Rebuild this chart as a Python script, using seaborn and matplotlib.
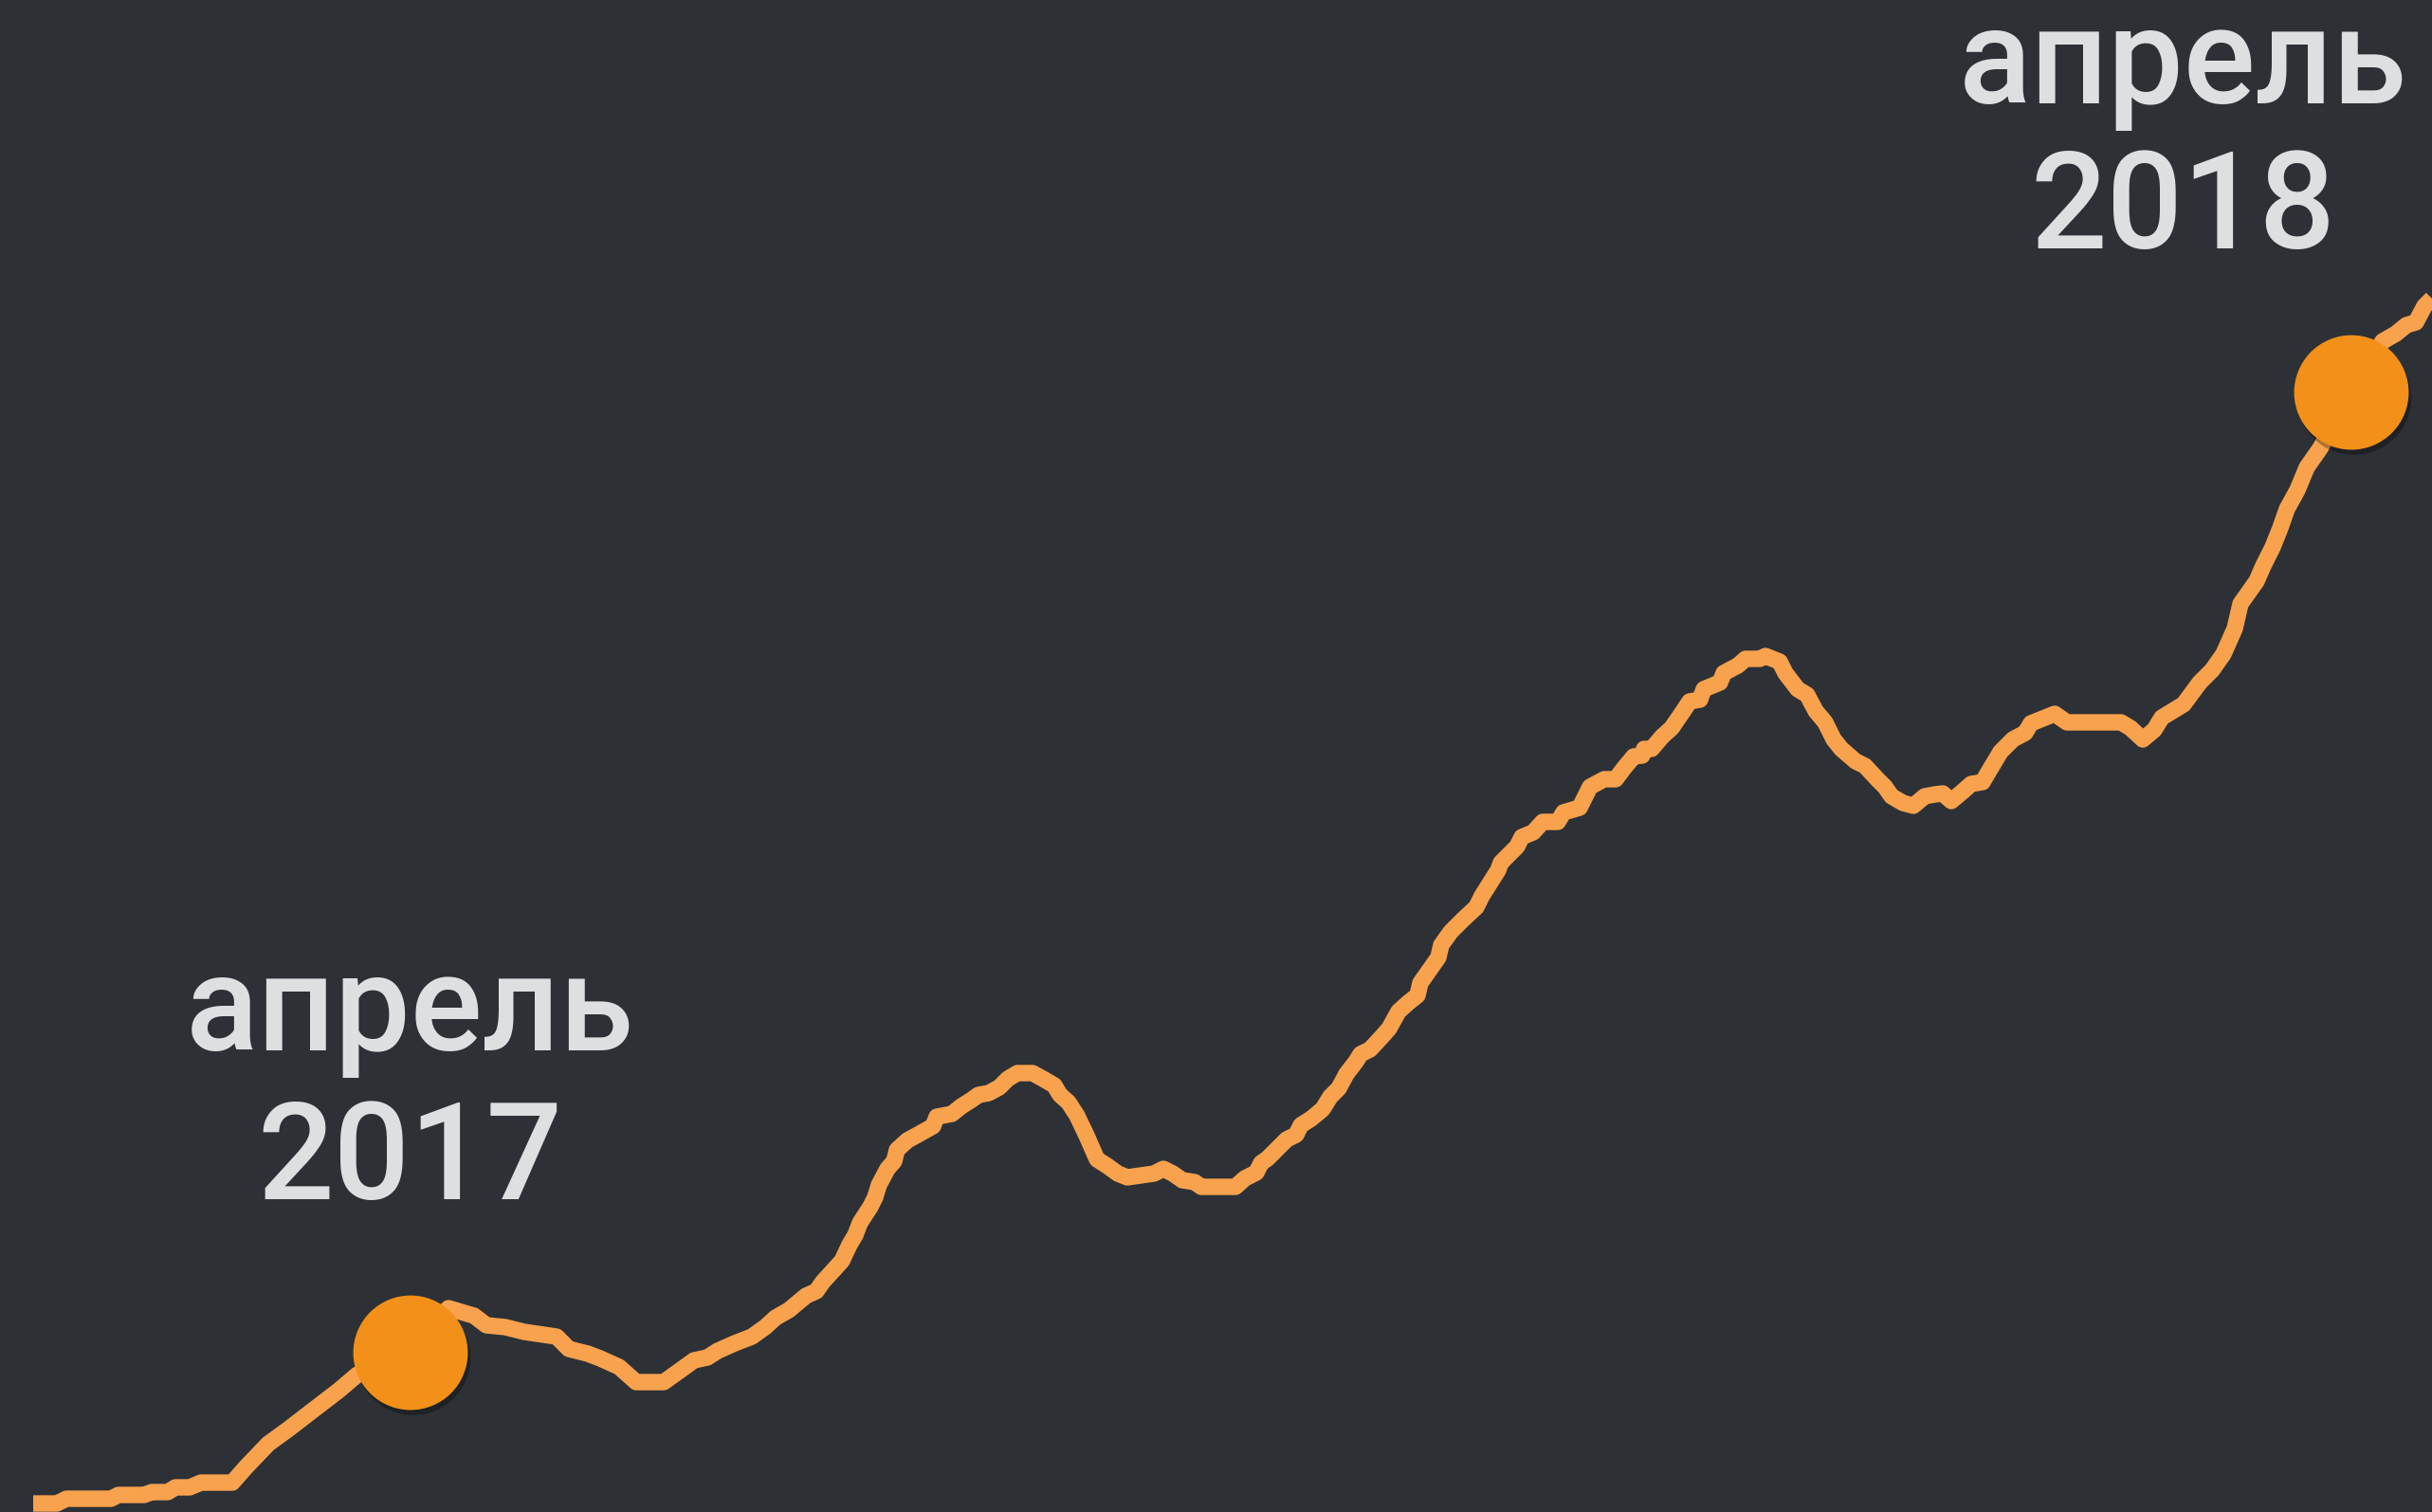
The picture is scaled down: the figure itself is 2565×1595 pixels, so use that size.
import matplotlib
matplotlib.use("Agg")
import matplotlib.pyplot as plt
import matplotlib.patheffects as pe
import pandas as pd
import seaborn as sns

# ---- data: position along the period and index value ----
x_pos = [35, 60, 70, 117, 125, 152, 160, 177, 185, 200, 212, 245, 260, 283, 305, 327,
         357, 377, 433, 473, 500, 513, 533, 553, 587, 600, 620, 633, 653, 671, 700,
         714, 732, 746, 757, 775, 793, 807, 818, 832, 850, 861, 868, 879, 888, 896,
         902, 907, 918, 923, 927, 936, 943, 946, 957, 968, 984, 988, 1004, 1014, 1025,
         1032, 1043, 1054, 1063, 1073, 1089, 1100, 1112, 1118, 1127, 1136, 1146, 1157,
         1168, 1179, 1189, 1217, 1227, 1237, 1247, 1260, 1267, 1303, 1313, 1325, 1330,
         1337, 1357, 1367, 1372, 1383, 1395, 1403, 1412, 1420, 1430, 1435, 1445, 1458,
         1465, 1475, 1485, 1495, 1498, 1510, 1517, 1520, 1530, 1543, 1557, 1563, 1580,
         1583, 1600, 1605, 1617, 1627, 1643, 1649, 1666, 1677, 1692, 1704, 1713, 1723,
         1732, 1734, 1742, 1753, 1763, 1774, 1782, 1793, 1797, 1814, 1818, 1833, 1841,
         1856, 1862, 1877, 1883, 1896, 1906, 1915, 1925, 1934, 1942, 1957, 1967, 1980,
         1988, 1995, 2007, 2018, 2030, 2041, 2049, 2058, 2070, 2079, 2091, 2098, 2110,
         2123, 2136, 2142, 2157, 2167, 2180, 2237, 2247, 2260, 2272, 2280, 2303, 2320,
         2333, 2345, 2357, 2363, 2380, 2387, 2397, 2405, 2412, 2423, 2433, 2447, 2480,
         2513, 2527, 2538, 2548, 2557, 2565]
y_px = [1586, 1586, 1581, 1581, 1577, 1577, 1574, 1574, 1569, 1569, 1564, 1564, 1547, 1523,
        1507, 1490, 1467, 1450, 1427, 1380, 1388, 1398, 1400, 1405, 1410, 1423, 1428, 1433,
        1442, 1458, 1458, 1448, 1435, 1432, 1425, 1417, 1410, 1400, 1390, 1382, 1367, 1362,
        1352, 1340, 1330, 1313, 1303, 1290, 1273, 1263, 1250, 1233, 1225, 1213, 1203, 1197,
        1188, 1178, 1175, 1167, 1160, 1155, 1153, 1147, 1138, 1132, 1132, 1138, 1145, 1155,
        1163, 1177, 1198, 1223, 1230, 1238, 1242, 1238, 1233, 1238, 1245, 1247, 1252, 1252,
        1243, 1237, 1227, 1222, 1202, 1197, 1187, 1180, 1170, 1157, 1148, 1133, 1120, 1112,
        1107, 1093, 1085, 1067, 1058, 1050, 1037, 1020, 1010, 997, 983, 970, 957, 945, 918,
        910, 893, 883, 878, 867, 867, 857, 852, 830, 822, 822, 810, 798, 797, 790, 790, 777,
        768, 752, 740, 738, 727, 720, 710, 702, 695, 695, 692, 698, 710, 727, 733, 750, 762,
        780, 790, 803, 808, 822, 830, 840, 847, 850, 840, 838, 837, 845, 835, 827, 825, 813,
        793, 780, 773, 763, 757, 753, 762, 762, 768, 780, 770, 757, 743, 720, 707, 690, 663,
        637, 613, 597, 577, 557, 537, 517, 493, 473, 414, 360, 352, 343, 340, 323, 315]
HEIGHT = 1595
values = [HEIGHT - v for v in y_px]

# highlighted points
mark_x = [433, 2480]
mark_val = [HEIGHT - 1427, HEIGHT - 414]

labels = ["апрель", "апрель"]
years = ["2017", "2018"]
label_x = [432, 2302]
label_word_val = [487, 1486]
label_year_val = [330, 1333]

BG = "#2d3136"
LINE = "#f8a24e"
DOT = "#f2901a"
TEXT = "#dddfe1"

sns.set_theme(style="dark", rc={"axes.facecolor": BG, "figure.facecolor": BG})
plt.rcParams["font.family"] = ["Roboto", "DejaVu Sans"]

fig = plt.figure(figsize=(25.65, 15.95), dpi=100)
ax = fig.add_axes([0, 0, 1, 1])
ax.set_facecolor(BG)

df = pd.DataFrame({"x": x_pos, "value": values})
sns.lineplot(data=df, x="x", y="value", ax=ax, color=LINE, linewidth=12.5,
             solid_capstyle="butt", solid_joinstyle="round", zorder=2)

dots = sns.scatterplot(x=mark_x, y=mark_val, ax=ax, s=87 ** 2, color=DOT,
                       edgecolor="none", linewidth=0, zorder=3)
dots.collections[-1].set_path_effects([
    pe.SimplePatchShadow(offset=(2, -4), shadow_rgbFace="black", alpha=0.3),
    pe.Normal(),
])

for lx, word, year, wv, yv in zip(label_x, labels, years, label_word_val, label_year_val):
    ax.text(lx, wv, word, ha="center", va="baseline", fontsize=102,
            fontweight="medium", color=TEXT)
    ax.text(lx, yv, year, ha="center", va="baseline", fontsize=102,
            fontweight="medium", color=TEXT)

ax.set_xlim(0, 2565)
ax.set_ylim(0, HEIGHT)
ax.set_axis_off()

fig.savefig("out.png", dpi=100, facecolor=BG)
